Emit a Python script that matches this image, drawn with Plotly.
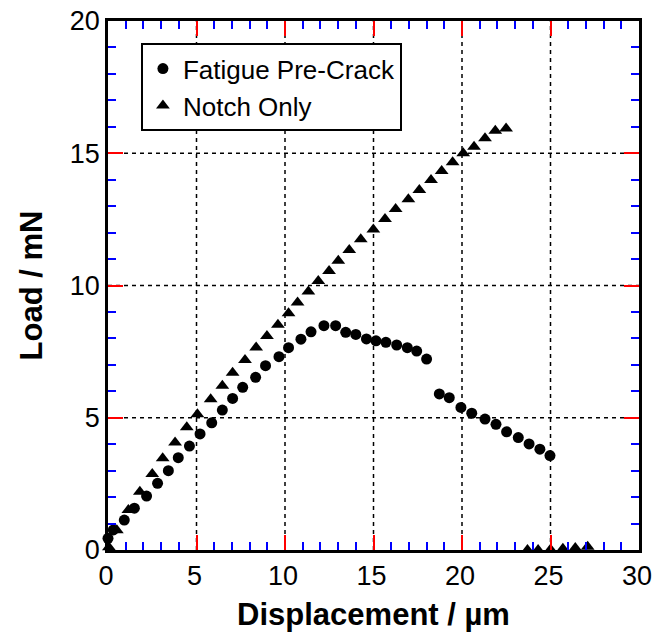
import plotly.graph_objects as go

# Fatigue Pre-Crack (circles)
fatigue_x = [0.0, 0.3, 0.92, 1.49, 2.18, 2.8, 3.41, 3.97, 4.6, 5.2, 5.86, 6.46, 7.04, 7.61,
             8.34, 8.9, 9.66, 10.2, 10.9, 11.47, 12.2, 12.86, 13.43, 14.0, 14.6, 15.14,
             15.7, 16.31, 16.91, 17.44, 18.0, 18.72, 19.28, 19.94, 20.55, 21.3, 21.92,
             22.52, 23.18, 23.79, 24.4, 24.97]
fatigue_y = [0.44, 0.76, 1.13, 1.58, 2.04, 2.52, 3.0, 3.49, 3.93, 4.39, 4.81, 5.29, 5.73, 6.15,
             6.53, 6.97, 7.31, 7.65, 7.97, 8.25, 8.48, 8.48, 8.23, 8.15, 7.98, 7.91,
             7.85, 7.75, 7.65, 7.52, 7.22, 5.9, 5.76, 5.39, 5.17, 4.95, 4.75,
             4.47, 4.25, 4.01, 3.81, 3.57]

# Notch Only (triangles)
notch_x = [0.05, 0.5, 1.15, 1.8, 2.5, 3.09, 3.79, 4.45, 5.05, 5.8, 6.46, 7.04, 7.74, 8.37,
           8.98, 9.6, 10.2, 10.71, 11.32, 11.88, 12.49, 13.01, 13.63, 14.28, 14.99, 15.65,
           16.25, 16.97, 17.59, 18.25, 18.85, 19.47, 20.07, 20.68, 21.3, 21.88, 22.49,
           23.7, 24.3, 25.0, 25.7, 26.4, 27.1]
notch_y = [0.1, 0.75, 1.51, 2.2, 2.87, 3.47, 4.06, 4.64, 5.13, 5.7, 6.21, 6.7, 7.18, 7.66,
           8.09, 8.52, 8.95, 9.36, 9.77, 10.17, 10.55, 10.94, 11.34, 11.75, 12.12, 12.51,
           12.89, 13.26, 13.61, 13.99, 14.33, 14.66, 15.0, 15.25, 15.57, 15.85, 15.94,
           0.0, 0.0, 0.02, 0.05, 0.08, 0.12]

x_ticks = [0, 5, 10, 15, 20, 25, 30]
y_ticks = [0, 5, 10, 15, 20]
x_range = [x_ticks[0], x_ticks[-1]]
y_range = [y_ticks[0], y_ticks[-1]]

FONT = "Arial, Liberation Sans, sans-serif"

fig = go.Figure()
fig.add_trace(go.Scatter(x=fatigue_x, y=fatigue_y, mode="markers", name="Fatigue Pre-Crack",
                         marker=dict(symbol="circle", size=11, color="black"), cliponaxis=False))
fig.add_trace(go.Scatter(x=notch_x, y=notch_y, mode="markers", name="Notch Only",
                         marker=dict(symbol="triangle-up", size=12, color="black"), cliponaxis=False))

# dashed grid lines at the inner major ticks, drawn beneath the markers
grid_line = dict(color="black", width=1.5, dash="4px,4px")
for gx in x_ticks[1:-1]:
    fig.add_shape(type="line", xref="x", yref="y", x0=gx, x1=gx, y0=y_range[0], y1=y_range[1],
                  line=grid_line, layer="below")
for gy in y_ticks[1:-1]:
    fig.add_shape(type="line", xref="x", yref="y", x0=x_range[0], x1=x_range[1], y0=gy, y1=gy,
                  line=grid_line, layer="below")

axis_common = dict(
    showline=True, linecolor="black", linewidth=2.5, mirror="ticks",
    ticks="inside", ticklen=15, tickwidth=2, tickcolor="red",
    zeroline=False, showgrid=False, automargin=False, ticklabeloverflow="allow",
    minor=dict(ticks="inside", ticklen=8, tickwidth=2, tickcolor="blue", dtick=1),
)

fig.update_xaxes(range=x_range, tickmode="linear", tick0=x_ticks[0], dtick=x_ticks[1] - x_ticks[0],
                 ticklabelshift=-2, tickfont=dict(family=FONT, size=27, color="black"),
                 title=dict(text="<b>Displacement / µm</b>", font=dict(family=FONT, size=31, color="black"), standoff=14),
                 **axis_common)
fig.update_yaxes(range=y_range, tickmode="linear", tick0=y_ticks[0], dtick=y_ticks[1] - y_ticks[0],
                 tickfont=dict(family=FONT, size=27, color="black"),
                 title=dict(text="<b>Load / mN</b>", font=dict(family=FONT, size=31, color="black"), standoff=18),
                 **axis_common)

fig.update_layout(
    width=653, height=636,
    margin=dict(l=108, r=14, t=21, b=86),
    paper_bgcolor="white", plot_bgcolor="white",
    showlegend=True,
    legend=dict(x=0.062, y=0.958, xanchor="left", yanchor="top",
                bgcolor="white", bordercolor="black", borderwidth=2,
                font=dict(family=FONT, size=26, color="black"),
                entrywidth=250, entrywidthmode="pixels",
                tracegroupgap=0),
)

fig.write_html("out.html", post_script="document.body.style.margin='0';",
               config={"displayModeBar": False})
